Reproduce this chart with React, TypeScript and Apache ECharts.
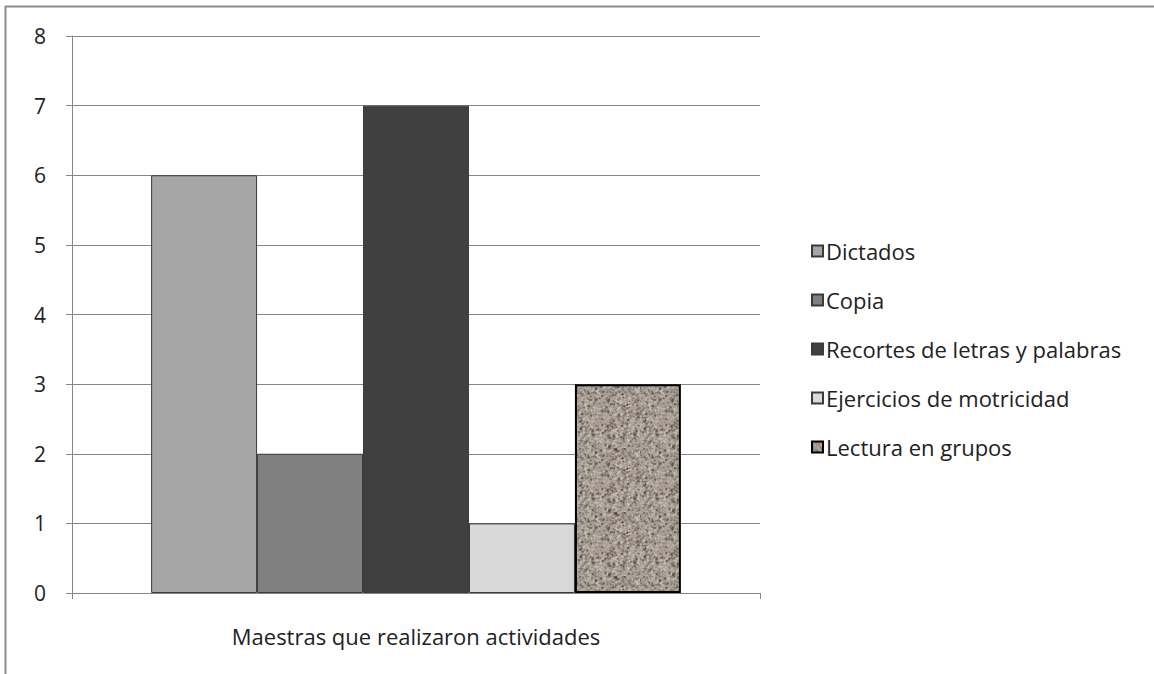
import React, { useEffect, useRef } from "react";
import * as echarts from "echarts";

const categories = ["Maestras que realizaron actividades"];
const seriesNames = [
  "Dictados",
  "Copia",
  "Recortes de letras y palabras",
  "Ejercicios de motricidad",
  "Lectura en grupos",
];
const seriesValues = [6, 2, 7, 1, 3];
const yTicks = [0, 1, 2, 3, 4, 5, 6, 7, 8];

function makeTexture(): HTMLCanvasElement {
  const c = document.createElement("canvas");
  c.width = 64;
  c.height = 64;
  const ctx = c.getContext("2d")!;
  ctx.fillStyle = "#a89e94";
  ctx.fillRect(0, 0, 64, 64);
  let s = 12345;
  const next = () => {
    s = (s * 1103515245 + 12345) & 0x7fffffff;
    return s / 0x7fffffff;
  };
  for (let i = 0; i < 1100; i++) {
    const x = next() * 64;
    const y = next() * 64;
    const r = 0.5 + next() * 0.9;
    const t = next();
    ctx.fillStyle = t < 0.4 ? "rgba(100,88,78,0.5)" : t < 0.9 ? "rgba(210,204,196,0.55)" : "rgba(60,50,42,0.6)";
    ctx.beginPath();
    ctx.arc(x, y, r, 0, Math.PI * 2);
    ctx.fill();
  }
  return c;
}

export default function App() {
  const ref = useRef<HTMLDivElement>(null);
  useEffect(() => {
    document.body.style.margin = "0";
    const chart = echarts.init(ref.current!, undefined, { renderer: "svg" });
    const tex = makeTexture();
    const texture = { image: tex.toDataURL(), repeat: "repeat" };
    const colors: any[] = ["#a6a6a6", "#808080", "#404040", "#d9d9d9", texture];
    const font = "'Open Sans', 'Noto Sans', sans-serif";
    chart.setOption({
      animation: false,
      backgroundColor: "#ffffff",
      graphic: [
        {
          type: "rect",
          shape: { x: 5.5, y: 6.5, width: 1200, height: 700 },
          style: { fill: "none", stroke: "#8c8c8c", lineWidth: 2 },
          silent: true,
        },
      ],
      grid: { left: 72, top: 36, width: 688, height: 557, containLabel: false },
      legend: {
        orient: "vertical",
        left: 806,
        top: 235,
        itemWidth: 11,
        itemHeight: 11,
        itemGap: 27,
        icon: "rect",
        textStyle: { fontFamily: font, fontSize: 22, color: "#222222", lineHeight: 22, padding: [0, 0, 0, -2] },
        data: seriesNames,
      },
      xAxis: {
        type: "category",
        data: categories,
        axisLine: { lineStyle: { color: "#868686", width: 1 } },
        axisTick: { show: true, length: 6, lineStyle: { color: "#868686" } },
        axisLabel: { margin: 32, fontFamily: font, fontSize: 22, lineHeight: 22, color: "#222222" },
      },
      yAxis: {
        type: "value",
        min: 0,
        max: 8,
        interval: 1,
        axisLine: { show: true, lineStyle: { color: "#868686", width: 1 } },
        axisTick: { show: true, length: 6, lineStyle: { color: "#868686" } },
        axisLabel: {
          margin: 26,
          fontFamily: font,
          fontSize: 21,
          color: "#222222",
          formatter: (v: number) => (yTicks.includes(v) ? String(v) : ""),
        },
        splitLine: { show: true, lineStyle: { color: "#868686", width: 1 } },
      },
      series: seriesNames.map((name, i) => ({
        name,
        type: "bar",
        data: [seriesValues[i]],
        barGap: "0%",
        barCategoryGap: "23%",
        itemStyle: {
          color: colors[i],
          borderColor: i === 4 ? "#000000" : "#3a3a3a",
          borderWidth: i === 4 ? 2 : 1,
        },
      })),
    });
    return () => chart.dispose();
  }, []);
  return <div ref={ref} style={{ width: 1154, height: 674 }} />;
}
